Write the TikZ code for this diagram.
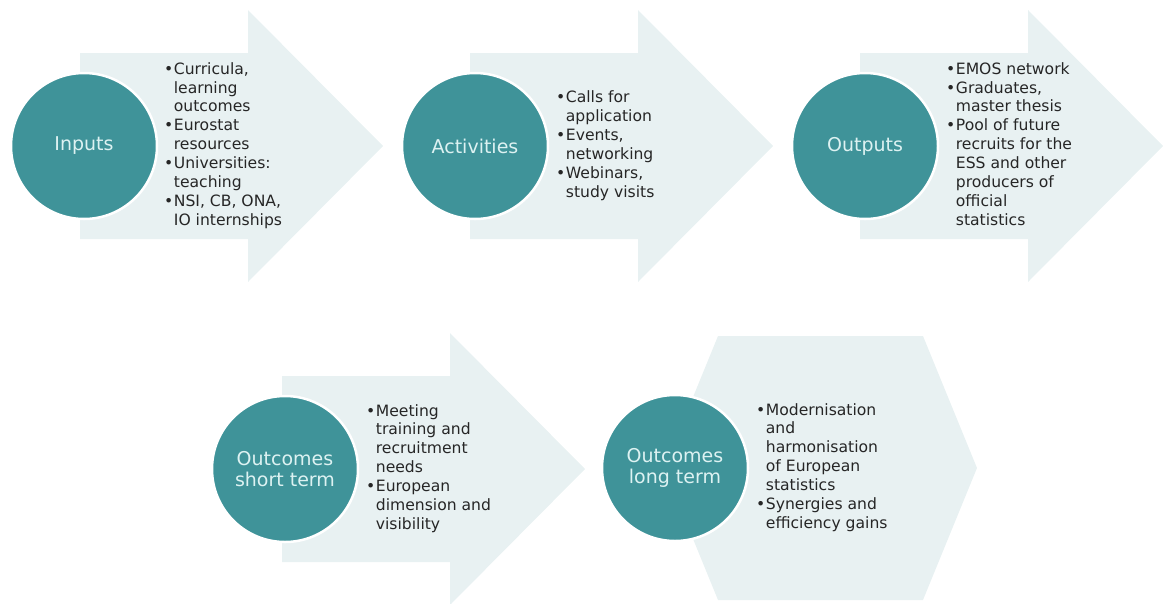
\documentclass[tikz,border=0pt]{standalone}
\usepackage{fontspec}
\setmainfont{DejaVu Sans}
\usetikzlibrary{positioning}
\definecolor{tealc}{HTML}{3F9399}
\definecolor{panelc}{HTML}{E8F1F2}
\definecolor{labelc}{HTML}{DDF2F2}
\definecolor{txtc}{HTML}{262626}
\tikzset{panel/.style={fill=panelc}}
\tikzset{stage/.style={circle, draw=white, line width=2.5pt, fill=tealc, minimum size=146pt, inner sep=0pt, text=labelc, align=center, font=\fontsize{19}{21.5}\selectfont}}
\tikzset{items/.style={anchor=west, inner sep=0pt, text=txtc, font=\fontsize{15.6}{18.9}\selectfont}}
\newcommand{\panelarrow}[2]{\fill[panel] (#1,#2) ++(0,-93) -- ++(168,0) -- ++(0,-43) -- ++(135,136) -- ++(-135,136) -- ++(0,-43) -- ++(-168,0) -- cycle;}
\newcommand{\bul}{\textbullet}
\begin{document}
\begin{tikzpicture}[x=1pt,y=-1pt]

\useasboundingbox (0,0) rectangle (1163,603);

%arrows
\panelarrow{80}{146}
\panelarrow{470}{146}
\panelarrow{860}{146}
\panelarrow{282}{469}
\fill[panel] (664,468) -- (718,336) -- (923,336) -- (977,468) -- (923,600) -- (718,600) -- cycle;

%stages
\node[stage] (inputs) at (84,146) {Inputs};
\node[stage] (activities) at (475,146) {Activities};
\node[stage] (outputs) at (865,146) {Outputs};
\node[stage] (short) at (285,469) {Outcomes\\short term};
\node[stage] (long) at (675,468) {Outcomes\\long term};

%items
\node[items] (inputslist) at ([xshift=80pt]inputs.center) {\begin{tabular}{@{}l@{\hspace{0.5pt}}l@{}}
\bul & Curricula,\\ & learning\\ & outcomes\\
\bul & Eurostat\\ & resources\\
\bul & Universities:\\ & teaching\\
\bul & NSI, CB, ONA,\\ & IO internships
\end{tabular}};
\node[items] (activitieslist) at ([xshift=81pt]activities.center) {\begin{tabular}{@{}l@{\hspace{0.5pt}}l@{}}
\bul & Calls for\\ & application\\
\bul & Events,\\ & networking\\
\bul & Webinars,\\ & study visits
\end{tabular}};
\node[items] (outputslist) at ([xshift=81pt]outputs.center) {\begin{tabular}{@{}l@{\hspace{0.5pt}}l@{}}
\bul & EMOS network\\
\bul & Graduates,\\ & master thesis\\
\bul & Pool of future\\ & recruits for the\\ & ESS and other\\ & producers of\\ & official\\ & statistics
\end{tabular}};
\node[items] (shortlist) at ([xshift=81pt]short.center) {\begin{tabular}{@{}l@{\hspace{0.5pt}}l@{}}
\bul & Meeting\\ & training and\\ & recruitment\\ & needs\\
\bul & European\\ & dimension and\\ & visibility
\end{tabular}};
\node[items] (longlist) at ([xshift=81pt]long.center) {\begin{tabular}{@{}l@{\hspace{0.5pt}}l@{}}
\bul & Modernisation\\ & and\\ & harmonisation\\ & of European\\ & statistics\\
\bul & Synergies and\\ & efficiency gains
\end{tabular}};

\end{tikzpicture}
\end{document}
